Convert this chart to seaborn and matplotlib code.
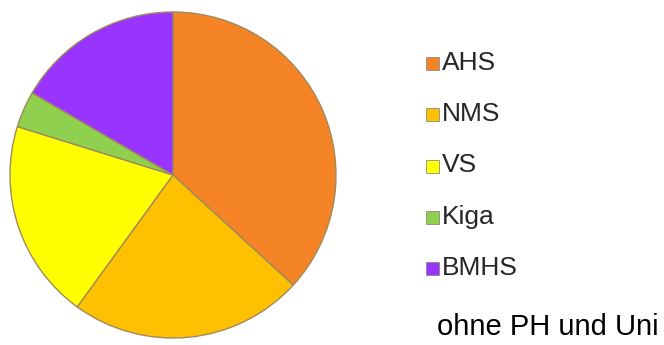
import matplotlib
matplotlib.use("Agg")
import matplotlib.pyplot as plt
import seaborn as sns
from matplotlib.patches import Rectangle

sns.set_style("white")
plt.rcParams['font.family'] = ['Liberation Sans', 'DejaVu Sans']

# shares (percent), clockwise from 12 o'clock
labels = ['AHS', 'NMS', 'VS', 'Kiga', 'BMHS']
shares = [36.8, 23.2, 19.8, 3.6, 16.6]
colors = ['#F58426', '#FFC000', '#FFFF00', '#8FD14F', '#9933FF']
note = "ohne PH und Uni"

W, H = 664, 345
fig = plt.figure(figsize=(W / 100, H / 100), dpi=100)

# pie: centre (173, 175) px, radius 163 px
cx, cy, r = 173, 175, 163
ax = fig.add_axes([(cx - r) / W, (H - cy - r) / H, 2 * r / W, 2 * r / H])
ax.pie(shares, colors=colors, startangle=90, counterclock=False,
       wedgeprops=dict(edgecolor='#A08A5A', linewidth=1.0))
ax.set_xlim(-1.0, 1.0)
ax.set_ylim(-1.0, 1.0)
ax.set_aspect('equal')
ax.axis('off')

# legend, drawn by hand to match spacing
for i, (lab, col) in enumerate(zip(labels, colors)):
    base = 70 + i * 51.25
    fig.patches.append(Rectangle((426 / W, (H - base) / H), 13 / W, 13 / H,
                                 facecolor=col, edgecolor='#8A8A8A', linewidth=0.6,
                                 transform=fig.transFigure))
    fig.text(442 / W, (H - base) / H, lab, fontsize=19, color='#262626',
             ha='left', va='baseline')

fig.text(437 / W, (H - 335) / H, note, fontsize=21, color='black',
         ha='left', va='baseline')

fig.savefig("out.png", dpi=100)
